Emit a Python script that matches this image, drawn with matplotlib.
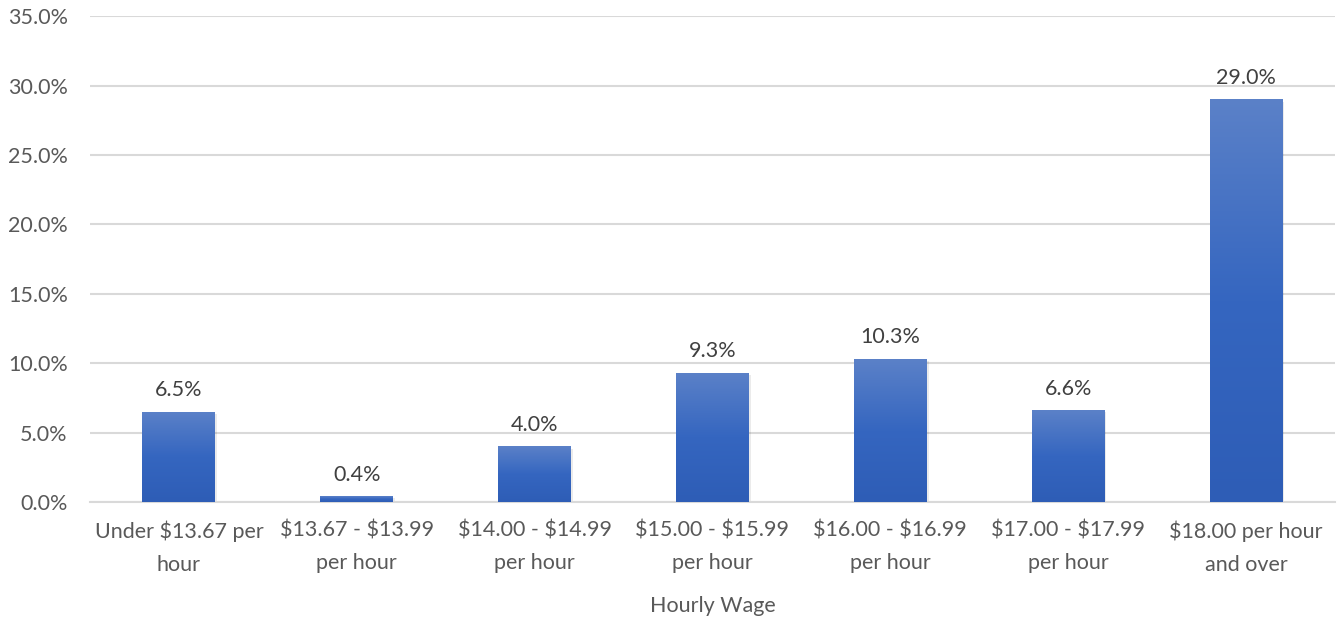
import matplotlib
matplotlib.use("Agg")
import matplotlib.pyplot as plt
import numpy as np
from matplotlib.colors import LinearSegmentedColormap
from matplotlib.ticker import FuncFormatter

categories = ["Under \\$13.67 per\nhour", "\\$13.67 - \\$13.99\nper hour", "\\$14.00 - \\$14.99\nper hour",
              "\\$15.00 - \\$15.99\nper hour", "\\$16.00 - \\$16.99\nper hour", "\\$17.00 - \\$17.99\nper hour",
              "\\$18.00 per hour\nand over"]
values = [6.5, 0.4, 4.0, 9.3, 10.3, 6.6, 29.0]
yticks = [0, 5, 10, 15, 20, 25, 30, 35]

plt.rcParams['font.family'] = ['Lato', 'DejaVu Sans']
text_color = "#595959"
fs = 15.5

fig = plt.figure(figsize=(13.43, 6.22), dpi=100)
ax = fig.add_axes([0.067, 0.193, 0.927, 0.781])

x = np.arange(len(categories))
width = 0.41
bars = ax.bar(x, values, width=width, color="#4472C4", zorder=3)

cmap = LinearSegmentedColormap.from_list("g", ["#2E5DB6", "#3566C0", "#5B81C8"])
grad = np.linspace(0, 1, 256).reshape(-1, 1)
for b in bars:
    bx, by = b.get_x(), b.get_y()
    w, h = b.get_width(), b.get_height()
    sh = plt.Rectangle((bx + 0.01, by - 0.15), w, h, facecolor="#000000", alpha=0.08,
                       edgecolor="none", zorder=2)
    ax.add_patch(sh)
    im = ax.imshow(grad, extent=[bx, bx + w, by, by + h], origin="lower", cmap=cmap,
                   aspect="auto", zorder=3.5)
    im.set_clip_path(b)

for xi, v in zip(x, values):
    ax.text(xi, v + 0.85, f"{v:.1f}%", ha="center", va="bottom", fontsize=fs, color="#404040")

ax.set_xlim(-0.5, len(categories) - 0.5)
ax.set_ylim(0, 35)
ax.set_yticks(yticks)
ax.yaxis.set_major_formatter(FuncFormatter(lambda v, p: f"{v:.1f}%"))
ax.set_xticks(x)
ax.set_xticklabels(categories, fontsize=fs, color=text_color, linespacing=1.78)
ax.tick_params(axis='y', labelsize=fs, labelcolor=text_color, length=0, pad=16)
ax.tick_params(axis='x', length=0, pad=13.5)
ax.grid(axis='y', color="#D9D9D9", linewidth=1.5, zorder=0)
for s in ["top", "right", "left"]:
    ax.spines[s].set_visible(False)
ax.spines["bottom"].set_color("#D9D9D9")
ax.spines["bottom"].set_linewidth(1.5)
ax.set_xlabel("Hourly Wage", fontsize=fs, color=text_color, labelpad=15)

fig.savefig("out.png", dpi=100)
